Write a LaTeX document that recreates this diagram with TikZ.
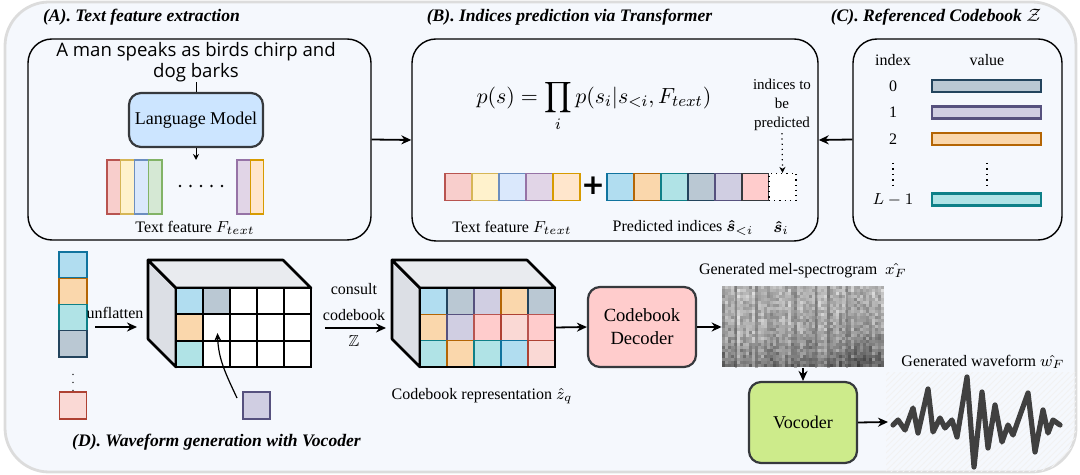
\documentclass[tikz,border=0pt]{standalone}
\usepackage{amsmath,amssymb}
\usepackage[no-math]{fontspec}
\setmainfont{Liberation Serif}
\newfontfamily\comicfont{Open Sans}
\newfontfamily\plusfont{DejaVu Sans}
\usetikzlibrary{arrows.meta,patterns}

% drawio-like palette (F = fill, D = border)
\definecolor{redF}{HTML}{F8CECC}\definecolor{redD}{HTML}{B85450}
\definecolor{yelF}{HTML}{FFF2CC}\definecolor{yelD}{HTML}{D6B656}
\definecolor{bluF}{HTML}{DAE8FC}\definecolor{bluD}{HTML}{6C8EBF}
\definecolor{grnF}{HTML}{D5E8D4}\definecolor{grnD}{HTML}{82B366}
\definecolor{purF}{HTML}{E1D5E7}\definecolor{purD}{HTML}{9673A6}
\definecolor{orgF}{HTML}{FFE6CC}\definecolor{orgD}{HTML}{D79B00}
\definecolor{cyanF}{HTML}{B1DDF0}\definecolor{cyanD}{HTML}{10739E}
\definecolor{amberF}{HTML}{FAD7AC}\definecolor{amberD}{HTML}{B46504}
\definecolor{tealF}{HTML}{B0E3E6}\definecolor{tealD}{HTML}{0E8088}
\definecolor{slateF}{HTML}{BAC8D3}\definecolor{slateD}{HTML}{23445D}
\definecolor{lavF}{HTML}{D0CEE2}\definecolor{lavD}{HTML}{56517E}
\definecolor{pinkF}{HTML}{FFCCCC}\definecolor{pinkD}{HTML}{36393D}
\definecolor{pnkF}{HTML}{FFCCCC}\definecolor{pnkD}{HTML}{B85450}
\definecolor{roseF}{HTML}{FAD9D5}\definecolor{roseD}{HTML}{AE4132}
\definecolor{whtF}{HTML}{FFFFFF}\definecolor{whtD}{HTML}{000000}
\definecolor{bgfill}{HTML}{F5F8FD}
\definecolor{bgline}{HTML}{DCDCDC}
\definecolor{blockline}{HTML}{36393D}
\definecolor{lmblue}{HTML}{CCE5FF}
\definecolor{vocgreen}{HTML}{CDEB8B}
\definecolor{sidegray}{HTML}{DCDFE5}
\definecolor{topgray}{HTML}{E9EBEF}
\definecolor{wavegray}{HTML}{404040}

\tikzset{
  panel/.style={draw=black, line width=0.7pt, rounded corners=12pt, inner sep=0pt},
  title/.style={font=\fontsize{8.8}{10}\selectfont\bfseries\itshape},
  lbl/.style={font=\fontsize{8}{9.5}\selectfont, inner sep=0.5pt},
  block/.style={draw=blockline, line width=1.1pt, rounded corners=6pt, align=center, inner sep=0pt},
  cell/.style={minimum width=13.5pt, minimum height=13.5pt, inner sep=0pt, line width=0.6pt},
  bar/.style={minimum width=54.5pt, minimum height=6pt, inner sep=0pt, line width=1.1pt},
  arr/.style={-{Stealth[length=5pt,width=4.5pt]}, line width=0.9pt},
}

\begin{document}
\begin{tikzpicture}[x=0.5pt, y=-0.5pt]
  \useasboundingbox (0,0) rectangle (1080,475);

  %%%%% BACKGROUND %%%%%
  \draw[fill=bgfill, draw=bgline, line width=1.4pt, rounded corners=22pt] (5,2) rectangle (1076,472);
  \begin{scope}
    \clip[rounded corners=22pt] (5,2) rectangle (1076,472);
    \fill[pattern=north east lines, pattern color=black!5] (886,372) rectangle (1080,475);
  \end{scope}

  %%%%% (A) TEXT FEATURE EXTRACTION %%%%%
  \node[title] (ta) at (141.5,17) {(A). Text feature extraction};
  \node[panel, minimum width=171.5pt, minimum height=100.5pt] (pa) at (199.5,139.5) {};
  \node[align=center, inner sep=0pt, font=\comicfont\fontsize{9.3}{10.5}\selectfont] (txt) at (196,62)
    {A man speaks as birds chirp and\\dog barks};
  \node[block, fill=lmblue, minimum width=67pt, minimum height=27pt, font=\fontsize{9}{11}\selectfont] (lm) at (196,120) {Language Model};
  \coordinate (fb) at (196,160);
  \draw[line width=0.5pt] (txt.south) -- (lm.north);
  \draw[-{Stealth[length=3pt,width=3pt]}, line width=0.5pt] (lm.south) -- (fb);

  \foreach \cl [count=\k from 0] in {red,yel,blu,grn}
    \draw[fill=\cl F, draw=\cl D, line width=0.6pt] (107+13.75*\k,160) rectangle ++(13.75,54);
  \foreach \cl [count=\k from 0] in {pur,org}
    \draw[fill=\cl F, draw=\cl D, line width=0.6pt] (237+13.3*\k,160) rectangle ++(13.3,54);
  \foreach \i in {0,...,4}
    \fill (180+10.5*\i,186) circle (1.3);
  \node[lbl] (fa) at (195,228) {Text feature $F_{text}$};

  %%%%% (B) INDICES PREDICTION %%%%%
  \node[title] (tb) at (569.5,17) {(B). Indices prediction via Transformer};
  \node[panel, minimum width=203pt, minimum height=101pt] (pb) at (615,140) {};
  \node (eq) at (594,106) {\fontsize{10.8}{13}\selectfont$\displaystyle p(s)=\prod_{i} p(s_i|s_{<i},F_{text})$};

  \foreach \cl [count=\k from 0] in {red,yel,blu,pur,org}
    \node[cell, fill=\cl F, draw=\cl D] (t\k) at (458.5+27*\k,187) {};
  \node[inner sep=0pt, font=\plusfont\fontsize{14}{14}\selectfont\bfseries] (plus) at (593,186) {+};
  \foreach \cl [count=\k from 0] in {cyan,amber,teal,slate,lav,pink}
    \node[cell, fill=\cl F, draw=\cl D] (s\k) at (620.5+27*\k,187) {};
  \node[cell, fill=white, draw=black, dotted] (si) at (782.5,187) {};

  \node[align=center, font=\fontsize{7.5}{9.5}\selectfont, inner sep=1pt] (ip) at (782,105) {indices to\\be\\predicted};
  \draw[dotted, line width=0.6pt, -{Stealth[length=3pt,width=3pt]}] (ip.south) -- (si.north);

  \node[lbl] (lb1) at (512,228) {Text feature $F_{text}$};
  \node[lbl] (lb2) at (683,228) {Predicted indices $\boldsymbol{\hat{s}}_{<i}$};
  \node[lbl] (lb3) at (781,228) {$\boldsymbol{\hat{s}}_{i}$};

  %%%%% (C) CODEBOOK %%%%%
  \node[title] (tc) at (936,17) {(C). Referenced Codebook $\mathcal{Z}$};
  \node[panel, minimum width=104.5pt, minimum height=100.5pt] (pc) at (957.5,139.5) {};
  \node[lbl] (ci) at (893,60) {index};
  \node[lbl] (cv) at (987,60) {value};
  \node[lbl] (n0) at (893,86) {0};
  \node[lbl] (n1) at (893,112.5) {1};
  \node[lbl] (n2) at (893,139) {2};
  \node[lbl] (nl) at (893,200) {$L-1$};
  \node[bar, fill=slateF, draw=slateD] (v0) at (986.5,86) {};
  \node[bar, fill=lavF, draw=lavD] (v1) at (986.5,112.5) {};
  \node[bar, fill=amberF, draw=amberD] (v2) at (986.5,139) {};
  \node[bar, fill=tealF, draw=tealD] (vl) at (986.5,199.5) {};
  \draw[dotted, line width=0.7pt] (893,163) -- (893,188);
  \draw[dotted, line width=0.7pt] (987,163) -- (987,188);

  \draw[arr] (pa.east) -- (pb.west);
  \draw[arr] (pc.west) -- (pb.east);

  %%%%% (D) WAVEFORM GENERATION %%%%%
  \node[title] (td) at (216.5,442) {(D). Waveform generation with Vocoder};

  % flattened indices
  \foreach \cl [count=\k from 0] in {cyan,amber,teal,slate}
    \node[cell, minimum width=14pt, minimum height=13pt, fill=\cl F, draw=\cl D] (f\k) at (73,265+26.3*\k) {};
  \node[inner sep=0pt, font=\fontsize{6}{6}\selectfont] (fd) at (73,377) {$\vdots$};
  \node[cell, fill=roseF, draw=roseD] (fl) at (73,405.5) {};

  \node[lbl] (uf) at (115,313) {unflatten};
  \coordinate (u1) at (95,327);
  \coordinate (u2) at (137,327);
  \draw[arr] (u1) -- (u2);

  % index grid
  \draw[fill=sidegray, line width=1.3pt, line join=round] (148,260) -- (176,288) -- (176,367) -- (148,339) -- cycle;
  \draw[fill=topgray, line width=1.3pt, line join=round] (148,260) -- (283,260) -- (311,288) -- (176,288) -- cycle;
  \foreach \cl [count=\k from 0, evaluate=\k as \cc using {int(mod(\k,5))}, evaluate=\k as \rr using {int(\k/5)}]
      in {cyan,slate,wht,wht,wht,amber,wht,wht,wht,wht,teal,wht,wht,wht,wht}
    \fill[\cl F] (176+27*\cc,288+26.333*\rr) rectangle ++(27,26.333);
  \foreach \i in {1,...,4}
    \draw[line width=0.9pt] (176+27*\i,288) -- ++(0,79);
  \foreach \j in {1,2}
    \draw[line width=0.9pt] (176,288+26.333*\j) -- ++(135,0);
  \draw[line width=1.3pt] (176,288) rectangle (311,367);
  \node[minimum width=67.5pt, minimum height=39.5pt, inner sep=0pt] (grid) at (243.5,327.5) {};

  \node[cell, fill=lavF, draw=lavD] (lv) at (256.5,405.5) {};
  \coordinate (lvs) at (237,398);
  \coordinate (g11) at (217.5,333);
  \draw[-{Stealth[length=4pt,width=3.5pt]}, line width=0.6pt] (lvs) to[out=115,in=-88] (g11);

  \node[lbl, align=center, font=\fontsize{8}{13}\selectfont] (cs) at (354,302) {consult\\codebook};
  \node[lbl] (zz) at (354,341) {$\mathbb{Z}$};
  \coordinate (c1) at (325,328);
  \coordinate (c2) at (386,328);
  \draw[arr] (c1) -- (c2);

  % codebook representation
  \draw[fill=sidegray, line width=1.3pt, line join=round] (392,260) -- (420,288) -- (420,367) -- (392,339) -- cycle;
  \draw[fill=topgray, line width=1.3pt, line join=round] (392,260) -- (527,260) -- (555,288) -- (420,288) -- cycle;
  \foreach \cl [count=\k from 0, evaluate=\k as \cc using {int(mod(\k,5))}, evaluate=\k as \rr using {int(\k/5)}]
      in {cyan,slate,lav,amber,slate,amber,lav,pnk,rose,pnk,teal,amber,teal,cyan,rose}
    \draw[fill=\cl F, draw=\cl D, line width=0.6pt] (420+27*\cc,288+26.333*\rr) rectangle ++(27,26.333);
  \draw[line width=1.3pt] (420,288) rectangle (555,367);
  \node[minimum width=67.5pt, minimum height=39.5pt, inner sep=0pt] (zq) at (487.5,327.5) {};
  \node[lbl] (zl) at (482,396) {Codebook representation $\hat{z}_q$};

  \node[block, fill=pinkF, minimum width=54pt, minimum height=40pt, font=\fontsize{9.3}{11.5}\selectfont] (dec) at (642,327) {Codebook\\Decoder};

  % mel-spectrogram
  \pgfmathsetseed{42}
  \foreach \i in {0,...,53} {
    \pgfmathsetmacro{\cv}{rand}
    \foreach \j in {0,...,26} {
      \pgfmathsetmacro{\g}{28+9*\cv+11*rand+22*(\j/26)^3+14*(\i/53)^2*(\j/26)+10*exp(-\i/2)}
      \fill[black!\g] (722+3*\i,286+3*\j) rectangle ++(3.2,3.2);
    }
  }
  \foreach \xx/\ww in {735/2,755/3,794/3,815/2,827/3,846/2}
    \fill[black!60, opacity=0.5] (\xx,286) rectangle ++(\ww,82);
  \node[minimum width=81pt, minimum height=41pt, inner sep=0pt] (mel) at (803,327) {};
  \node[lbl] (ml) at (803,271) {Generated mel-spectrogram \ $\hat{x_F}$};

  \node[block, fill=vocgreen, minimum width=54pt, minimum height=40.5pt, font=\fontsize{9}{11}\selectfont] (voc) at (803,422.5) {Vocoder};
  \coordinate (ws) at (888,422);

  \draw[arr] (zq.east) -- (dec.west);
  \draw[arr] (dec.east) -- (mel.west);
  \draw[arr] (mel.south) -- (voc.north);
  \draw[arr] (voc.east) -- (ws);

  % waveform
  \node[lbl] (wl) at (983,362) {Generated waveform $\hat{w_F}$};
  \draw[wavegray, line width=2.6pt, line join=round, line cap=round] plot coordinates {
    (893,425) (898,420) (905,430) (913,408) (918,433) (928,389) (933,432) (940,418)
    (945,428) (952,420) (957,437) (967,377) (974,467) (982,392) (988,448) (995,405)
    (1002,442) (1008,425) (1013,435) (1019,418) (1028,393) (1035,452) (1043,410)
    (1048,433) (1053,420) (1060,425)};
\end{tikzpicture}
\end{document}
